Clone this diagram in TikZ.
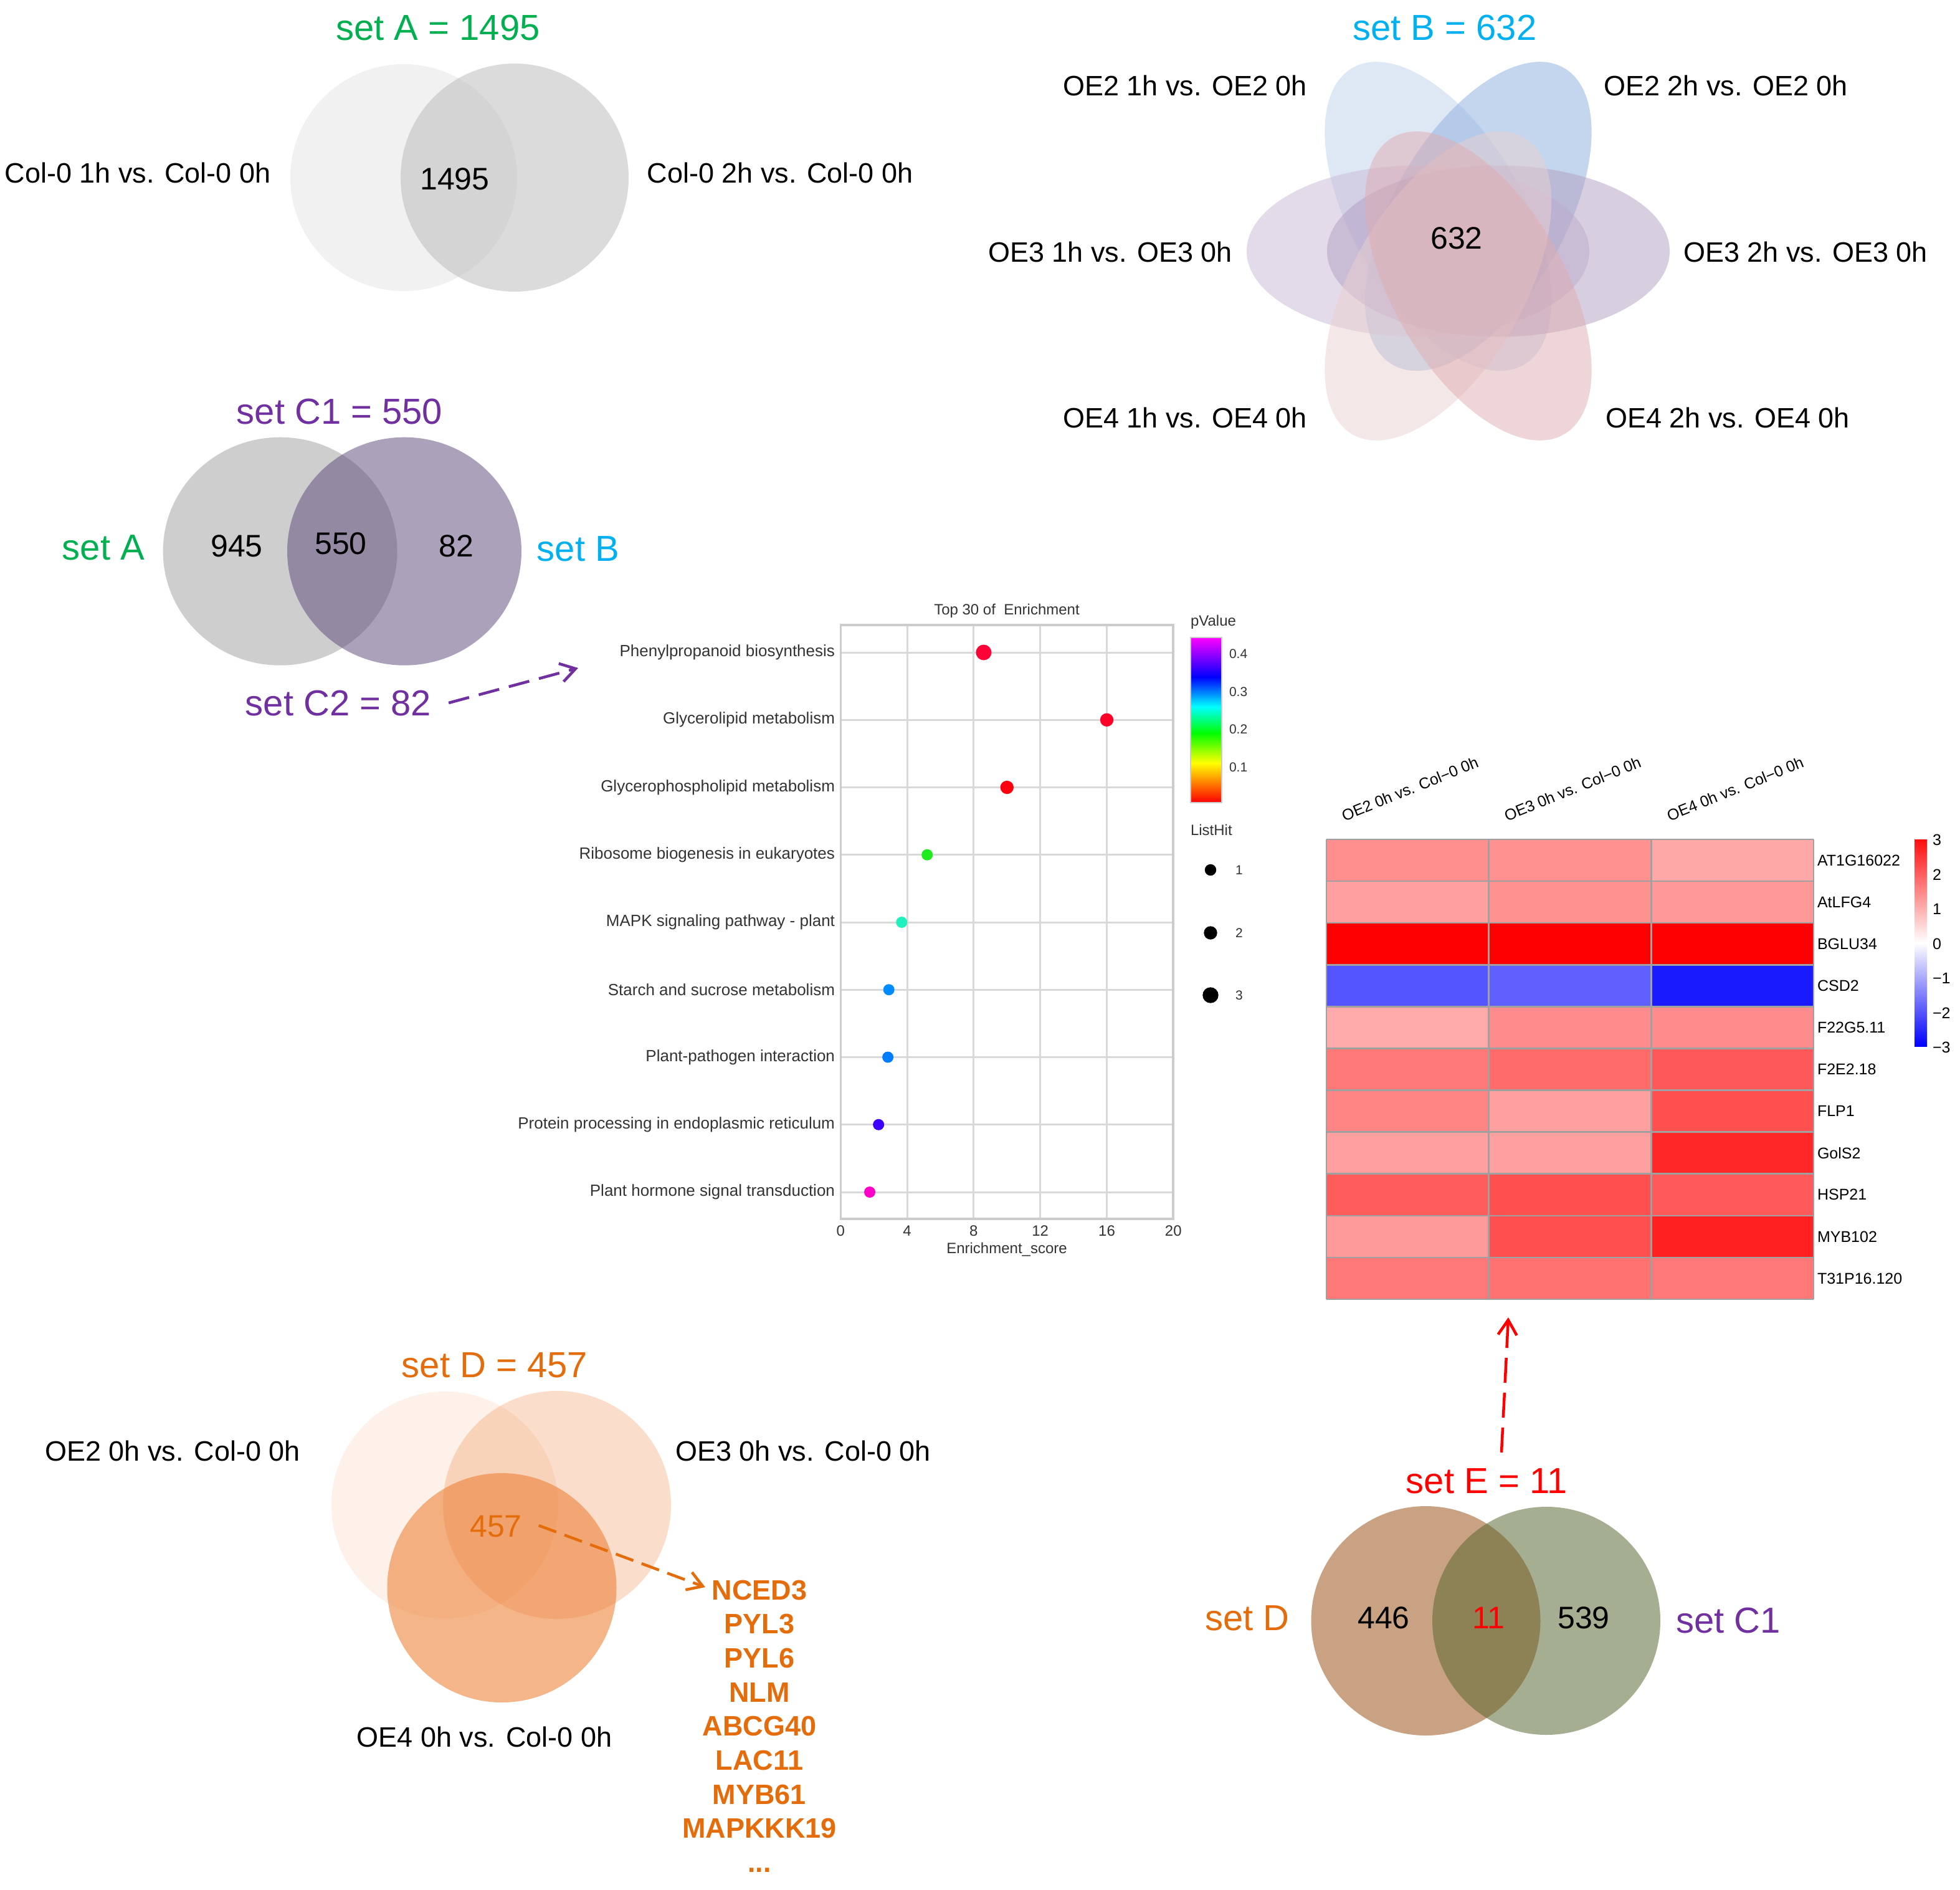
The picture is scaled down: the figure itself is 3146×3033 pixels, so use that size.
\documentclass[tikz,border=0pt]{standalone}
\usepackage{fontspec}
\setmainfont{Liberation Sans}
\usetikzlibrary{arrows.meta}
\definecolor{cgreen}{RGB}{0,176,80}
\definecolor{ccyan}{RGB}{0,176,240}
\definecolor{cpurple}{RGB}{112,48,160}
\definecolor{corange}{RGB}{228,108,10}
\definecolor{ctext}{RGB}{51,51,51}
\definecolor{cgrid}{RGB}{217,217,217}
\definecolor{cborder}{RGB}{204,204,204}
\definecolor{hmgrid}{RGB}{160,160,160}
\definecolor{aL}{RGB}{241,241,241}
\definecolor{aR}{RGB}{180,180,180}
\definecolor{cL}{RGB}{206,206,206}
\definecolor{cR}{RGB}{94,72,122}
\definecolor{bA}{RGB}{191,209,235}
\definecolor{bB}{RGB}{139,175,221}
\definecolor{bC}{RGB}{201,185,213}
\definecolor{bD}{RGB}{177,159,195}
\definecolor{bE}{RGB}{235,209,209}
\definecolor{bF}{RGB}{223,173,177}
\definecolor{dOr}{RGB}{237,125,49}
\definecolor{eL}{RGB}{201,162,132}
\definecolor{eR}{RGB}{86,101,45}
\pgfdeclareverticalshading{pvalbar}{100bp}{rgb(0bp)=(1,0,0); rgb(25bp)=(1,0,0); rgb(31bp)=(1,0.5,0); rgb(37bp)=(1,1,0); rgb(46bp)=(0,1,0); rgb(54bp)=(0,1,1); rgb(63bp)=(0,0,1); rgb(69bp)=(0.5,0,1); rgb(75bp)=(1,0,1); rgb(100bp)=(1,0,1)}
\pgfdeclareverticalshading{hmbar}{100bp}{rgb(0bp)=(0,0,1); rgb(25bp)=(0,0,1); rgb(50bp)=(1,1,1); rgb(75bp)=(1,0.05,0.05); rgb(100bp)=(1,0.05,0.05)}
\tikzset{
  every node/.style={inner sep=0pt, outer sep=0pt},
  ttl/.style={font=\fontsize{58}{64}\selectfont},
  lbl/.style={font=\fontsize{45}{50}\selectfont},
  cnt/.style={font=\fontsize{50}{56}\selectfont},
  gene/.style={font=\fontsize{45}{50}\selectfont\bfseries, text=corange, anchor=base},
  cat/.style={font=\fontsize{26}{30}\selectfont, text=ctext, anchor=east},
  tck/.style={font=\fontsize{24}{28}\selectfont, text=ctext},
  legt/.style={font=\fontsize{24}{28}\selectfont, text=ctext, anchor=west},
  legn/.style={font=\fontsize{21}{25}\selectfont, text=ctext, anchor=west},
  hml/.style={font=\fontsize{25}{29}\selectfont, anchor=west},
  conn/.style={line width=4.5pt, -{Straight Barb[length=24pt,width=30pt]}},
  petal/.style={fill opacity=0.5},
}
\begin{document}
\begin{tikzpicture}[x=1pt,y=-1pt]
\useasboundingbox (0,0) rectangle (3146,3033);
\fill[white] (0,0) rectangle (3146,3033);

% ---------------- set A ----------------
\fill[aL] (648,285) circle [radius=182pt];
\fill[aR, fill opacity=0.47] (826,285) circle [radius=183pt];
\node[ttl, text=cgreen] (tA) at (703,45) {set A = 1495};
\node[lbl] (lA1) at (221,277) {Col-0 1h vs. Col-0 0h};
\node[lbl] (lA2) at (1252,277) {Col-0 2h vs. Col-0 0h};
\node[cnt] (nA) at (730,287) {1495};

% ---------------- set B ----------------
\begin{scope}[shift={(2340.5,403)}]
  \fill[bA, petal, rotate=120] (64.5pt,0pt) ellipse [x radius=275pt, y radius=137.5pt];
  \fill[bB, petal, rotate=60] (64.5pt,0pt) ellipse [x radius=275pt, y radius=137.5pt];
  \fill[bC, petal] (-64.5pt,0pt) ellipse [x radius=275pt, y radius=137.5pt];
  \fill[bD, petal] (64.5pt,0pt) ellipse [x radius=275pt, y radius=137.5pt];
  \fill[bE, petal, rotate=60] (-64.5pt,0pt) ellipse [x radius=275pt, y radius=137.5pt];
  \fill[bF, petal, rotate=120] (-64.5pt,0pt) ellipse [x radius=275pt, y radius=137.5pt];
\end{scope}
\node[ttl, text=ccyan] (tB) at (2319,45) {set B = 632};
\node[lbl] (lB1) at (1902,137) {OE2 1h vs. OE2 0h};
\node[lbl] (lB2) at (2770,137) {OE2 2h vs. OE2 0h};
\node[lbl] (lB3) at (1782,404) {OE3 1h vs. OE3 0h};
\node[lbl] (lB4) at (2898,404) {OE3 2h vs. OE3 0h};
\node[lbl] (lB5) at (1902,670) {OE4 1h vs. OE4 0h};
\node[lbl] (lB6) at (2773,670) {OE4 2h vs. OE4 0h};
\node[cnt] (nB) at (2338,382) {632};

% ---------------- set C1 ----------------
\fill[cL] (449.6,884.7) ellipse [x radius=188pt, y radius=183pt];
\fill[cR, fill opacity=0.51] (649,884.7) ellipse [x radius=188pt, y radius=183pt];
\node[ttl, text=cpurple] (tC1) at (545,661) {set C1 = 550};
\node[ttl, text=cgreen] (sA) at (166,879) {set A};
\node[ttl, text=ccyan] (sB) at (928,881) {set B};
\node[cnt] (nC1) at (380,876) {945};
\node[cnt] (nC2) at (547,872) {550};
\node[cnt] (nC3) at (732,876) {82};
\node[ttl, text=cpurple] (c2) at (543,1129) {set C2 = 82};
\coordinate (c2tip) at (928,1072);
\draw[conn, cpurple, dash pattern=on 34pt off 16pt] ([xshift=28pt,yshift=1pt]c2.east) -- (c2tip);

% ---------------- dot plot ----------------
\foreach \v in {4,8,12,16}{
  \draw[cgrid, line width=3pt] ({1349.3+26.7*\v},1003) -- ({1349.3+26.7*\v},1956);
}
\foreach \i in {0,...,8}{
  \draw[cgrid, line width=3pt] (1349.3,{1047+108.25*\i}) -- (1883.2,{1047+108.25*\i});
}
\draw[cborder, line width=3.5pt] (1349.3,1003) rectangle (1883.2,1956);
\node[tck] (dtitle) at (1616,980) {Top 30 of~ Enrichment};
\node[cat] (k0) at (1340,1047) {Phenylpropanoid biosynthesis};
\node[cat] (k1) at (1340,1155.25) {Glycerolipid metabolism};
\node[cat] (k2) at (1340,1263.5) {Glycerophospholipid metabolism};
\node[cat] (k3) at (1340,1371.75) {Ribosome biogenesis in eukaryotes};
\node[cat] (k4) at (1340,1480) {MAPK signaling pathway - plant};
\node[cat] (k5) at (1340,1588.25) {Starch and sucrose metabolism};
\node[cat] (k6) at (1340,1696.5) {Plant-pathogen interaction};
\node[cat] (k7) at (1340,1804.75) {Protein processing in endoplasmic reticulum};
\node[cat] (k8) at (1340,1913) {Plant hormone signal transduction};
\foreach \v/\i/\r/\R/\G/\B in {8.6/0/12.5/255/0/55, 16.0/1/10.7/255/0/40, 10.0/2/10.7/255/0/15, 5.2/3/9/30/235/30, 3.67/4/9/30/240/190, 2.9/5/9/0/140/255, 2.84/6/9/0/125/255, 2.28/7/9/60/0/255, 1.75/8/9/255/0/200}{
  \fill[fill={rgb,255:red,\R;green,\G;blue,\B}] ({1349.3+26.7*\v},{1047+108.25*\i}) circle [radius=\r pt];
}
\foreach \v in {0,4,8,12,16,20}{
  \node[tck] (xt\v) at ({1349.3+26.7*\v},1975) {\v};
}
\node[tck] (xlab) at (1616,2005) {Enrichment\_score};
% legend
\node[legt] (pv) at (1911,998) {pValue};
\shade[shading=pvalbar] (1911,1023) rectangle (1961,1288);
\draw[cborder, line width=1.5pt] (1911,1023) rectangle (1961,1288);
\node[legn] (p4) at (1973,1049) {0.4};
\node[legn] (p3) at (1973,1110) {0.3};
\node[legn] (p2) at (1973,1170.5) {0.2};
\node[legn] (p1) at (1973,1231.5) {0.1};
\node[legt] (lh) at (1911,1332) {ListHit};
\fill[black] (1943,1396) circle [radius=9.2pt];
\fill[black] (1943,1497) circle [radius=10.7pt];
\fill[black] (1943,1597) circle [radius=12.7pt];
\node[legn] (lh1) at (1983,1396) {1};
\node[legn] (lh2) at (1983,1497) {2};
\node[legn] (lh3) at (1983,1597) {3};

% ---------------- heatmap ----------------
\foreach \r/\c/\R/\G/\B in {
 0/0/255/143/143, 0/1/255/145/145, 0/2/255/168/168,
 1/0/255/160/160, 1/1/255/145/145, 1/2/255/152/152,
 2/0/255/0/0, 2/1/255/0/0, 2/2/255/0/0,
 3/0/85/85/255, 3/1/96/96/255, 3/2/26/26/255,
 4/0/255/170/170, 4/1/255/140/140, 4/2/255/140/140,
 5/0/255/120/120, 5/1/255/106/106, 5/2/255/88/88,
 6/0/255/133/133, 6/1/255/160/160, 6/2/255/80/80,
 7/0/255/160/160, 7/1/255/160/160, 7/2/255/40/40,
 8/0/255/92/92, 8/1/255/80/80, 8/2/255/90/90,
 9/0/255/154/154, 9/1/255/80/80, 9/2/255/32/32,
 10/0/255/120/120, 10/1/255/112/112, 10/2/255/120/120}{
  \fill[fill={rgb,255:red,\R;green,\G;blue,\B}] ({2129+260.67*\c},{1347+67.09*\r}) rectangle ++(260.67,67.09);
}
\foreach \c in {0,...,3}{
  \draw[hmgrid, line width=2.5pt] ({2129+260.67*\c},1347) -- ({2129+260.67*\c},2085);
}
\foreach \r in {0,...,11}{
  \draw[hmgrid, line width=2.5pt] (2129,{1347+67.09*\r}) -- (2911,{1347+67.09*\r});
}
\node[hml, anchor=base west, rotate=22] (hc1) at (2158,1318) {OE2 0h vs. Col−0 0h};
\node[hml, anchor=base west, rotate=22] (hc2) at (2419,1318) {OE3 0h vs. Col−0 0h};
\node[hml, anchor=base west, rotate=22] (hc3) at (2680,1318) {OE4 0h vs. Col−0 0h};
\node[hml] (hr0) at (2917,1380.5) {AT1G16022};
\node[hml] (hr1) at (2917,1447.6) {AtLFG4};
\node[hml] (hr2) at (2917,1514.7) {BGLU34};
\node[hml] (hr3) at (2917,1581.8) {CSD2};
\node[hml] (hr4) at (2917,1648.9) {F22G5.11};
\node[hml] (hr5) at (2917,1716.0) {F2E2.18};
\node[hml] (hr6) at (2917,1783.1) {FLP1};
\node[hml] (hr7) at (2917,1850.2) {GolS2};
\node[hml] (hr8) at (2917,1917.3) {HSP21};
\node[hml] (hr9) at (2917,1984.4) {MYB102};
\node[hml] (hr10) at (2917,2051.5) {T31P16.120};
\shade[shading=hmbar] (3073,1347) rectangle (3093,1679);
\node[hml] (hb3) at (3102,1348) {3};
\node[hml] (hb2) at (3102,1403.5) {2};
\node[hml] (hb1) at (3102,1459) {1};
\node[hml] (hb0) at (3102,1514.5) {0};
\node[hml] (hbm1) at (3102,1570) {−1};
\node[hml] (hbm2) at (3102,1625.5) {−2};
\node[hml] (hbm3) at (3102,1681) {−3};

% ---------------- set D ----------------
\fill[dOr, fill opacity=0.10] (714,2415) circle [radius=182pt];
\fill[dOr, fill opacity=0.25] (894,2415) circle [radius=183pt];
\fill[dOr, fill opacity=0.57] (805.5,2548) circle [radius=184pt];
\node[ttl, text=corange] (tD) at (794,2191) {set D = 457};
\node[lbl] (lD1) at (277,2328) {OE2 0h vs. Col-0 0h};
\node[lbl] (lD2) at (1289,2328) {OE3 0h vs. Col-0 0h};
\node[lbl] (lD3) at (777.5,2787) {OE4 0h vs. Col-0 0h};
\node[cnt, text=corange] (n457) at (796,2450) {457};
\node[gene] (g1) at (1219,2567) {NCED3};
\node[gene] (g2) at (1219,2621.7) {PYL3};
\node[gene] (g3) at (1219,2676.4) {PYL6};
\node[gene] (g4) at (1219,2731.1) {NLM};
\node[gene] (g5) at (1219,2785.8) {ABCG40};
\node[gene] (g6) at (1219,2840.5) {LAC11};
\node[gene] (g7) at (1219,2895.2) {MYB61};
\node[gene] (g8) at (1219,2949.9) {MAPKKK19};
\node[gene] (g9) at (1219,3004.6) {...};
\coordinate (dtip) at (1132,2547);
\draw[conn, corange, dash pattern=on 30pt off 14pt] ([xshift=27pt,yshift=2pt]n457.east) -- (dtip);

% ---------------- set E ----------------
\fill[eL] (2288.5,2601) circle [radius=184pt];
\fill[eR, fill opacity=0.52] (2482,2601) circle [radius=183pt];
\node[ttl, text=red] (tE) at (2386,2377) {set E = 11};
\node[cnt] (nE1) at (2221,2596) {446};
\node[cnt, text=red] (nE2) at (2389,2596) {11};
\node[cnt] (nE3) at (2542,2596) {539};
\node[ttl, text=corange] (sD) at (2002,2597) {set D};
\node[ttl, text=cpurple] (sC1) at (2774,2601) {set C1};
\coordinate (etip) at (2421,2114);
\draw[conn, red, dash pattern=on 40pt off 16pt] ([xshift=24pt,yshift=26pt]tE.north) -- (etip);
\end{tikzpicture}
\end{document}
